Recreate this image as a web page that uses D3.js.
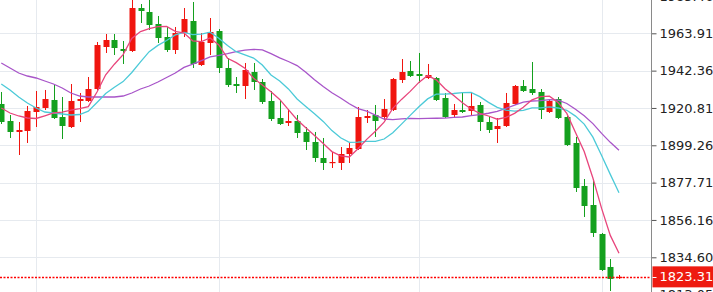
<!DOCTYPE html>
<html>
<head>
<meta charset="utf-8">
<script src="https://cdnjs.cloudflare.com/ajax/libs/d3/7.8.5/d3.min.js"></script>
<style>
  html, body { margin: 0; padding: 0; background: #fff; overflow: hidden; }
  svg { display: block; }
</style>
</head>
<body>
<div id="chart"></div>
<script>
const opens = [1923.10, 1913.28, 1906.94, 1907.51, 1918.48, 1920.79, 1925.41, 1915.59, 1909.82, 1924.83,
    1924.83, 1931.75, 1956.00, 1960.04, 1954.84, 1953.69, 1978.51, 1976.21, 1969.28, 1961.77,
    1954.27, 1964.08, 1971.01, 1945.61, 1958.31, 1965.23, 1943.88, 1934.64, 1933.49, 1941.57,
    1935.80, 1924.83, 1915.01, 1912.13, 1913.28, 1906.94, 1901.17, 1891.92, 1889.04, 1889.04,
    1894.23, 1897.12, 1915.01, 1916.74, 1915.59, 1919.63, 1936.95, 1942.14, 1940.41, 1938.10,
    1938.10, 1926.56, 1916.74, 1919.63, 1919.05, 1922.52, 1912.71, 1908.66, 1910.40, 1923.10,
    1933.49, 1931.75, 1930.03, 1918.48, 1925.98, 1915.59, 1900.59, 1875.77, 1864.79, 1848.06,
    1829.01, 1822.85];
const highs = [1930.03, 1916.74, 1912.71, 1921.95, 1930.60, 1931.18, 1934.64, 1927.14, 1934.64, 1929.45,
    1938.68, 1958.89, 1963.50, 1963.50, 1959.46, 1984.86, 1980.82, 1984.28, 1973.90, 1967.55,
    1967.55, 1978.51, 1981.98, 1964.08, 1972.74, 1966.39, 1949.65, 1938.68, 1946.77, 1946.77,
    1937.52, 1930.60, 1925.41, 1920.21, 1916.74, 1909.82, 1906.94, 1903.47, 1895.39, 1898.28,
    1901.17, 1921.37, 1919.63, 1922.52, 1925.98, 1938.10, 1949.07, 1947.92, 1952.54, 1946.19,
    1938.68, 1929.45, 1923.10, 1929.45, 1930.03, 1924.26, 1915.59, 1915.01, 1929.45, 1934.06,
    1936.95, 1947.35, 1931.75, 1925.98, 1927.14, 1916.17, 1904.05, 1879.80, 1879.80, 1848.64,
    1833.62, 1824.40];
const lows = [1911.55, 1903.47, 1893.65, 1900.59, 1909.82, 1919.63, 1914.43, 1902.89, 1909.24, 1912.71,
    1924.26, 1931.18, 1952.54, 1951.38, 1946.19, 1953.12, 1969.86, 1965.81, 1958.31, 1953.12,
    1951.96, 1961.77, 1943.88, 1945.04, 1951.38, 1940.99, 1932.91, 1929.45, 1925.98, 1931.18,
    1923.10, 1913.28, 1910.97, 1910.40, 1903.47, 1896.54, 1889.62, 1885.00, 1886.15, 1885.00,
    1889.04, 1896.54, 1912.13, 1904.05, 1913.86, 1919.05, 1935.22, 1938.68, 1935.22, 1937.52,
    1924.83, 1915.01, 1915.59, 1917.90, 1916.74, 1907.51, 1906.36, 1900.59, 1909.82, 1922.52,
    1930.03, 1928.29, 1914.43, 1917.90, 1914.43, 1898.86, 1872.30, 1857.87, 1846.33, 1826.70,
    1815.15, 1822.10];
const closes = [1912.71, 1906.94, 1908.09, 1919.05, 1921.37, 1925.98, 1915.01, 1910.40, 1924.83, 1925.98,
    1931.75, 1957.15, 1960.04, 1955.42, 1953.69, 1978.51, 1976.78, 1968.70, 1961.19, 1954.27,
    1964.08, 1972.16, 1946.19, 1958.89, 1964.66, 1943.88, 1934.06, 1933.49, 1942.72, 1935.80,
    1924.26, 1914.43, 1911.55, 1913.28, 1906.36, 1901.17, 1891.92, 1889.04, 1889.62, 1894.23,
    1897.70, 1915.59, 1916.17, 1913.28, 1920.21, 1937.52, 1941.57, 1939.26, 1939.26, 1939.83,
    1925.41, 1915.59, 1919.63, 1918.48, 1921.95, 1912.71, 1908.09, 1910.40, 1923.68, 1933.49,
    1930.60, 1929.45, 1919.63, 1924.83, 1915.01, 1899.43, 1874.61, 1864.22, 1848.64, 1827.28,
    1822.10, 1823.31];

const ma5 = [1920.79, 1917.90, 1916.17, 1915.02, 1914.73, 1916.29, 1917.90, 1918.36, 1919.52, 1920.44,
    1921.60, 1930.02, 1939.95, 1946.07, 1951.61, 1960.96, 1964.89, 1966.62, 1967.78, 1967.89,
    1965.00, 1964.08, 1959.58, 1959.12, 1961.19, 1957.15, 1949.53, 1946.99, 1943.76, 1937.99,
    1934.06, 1930.14, 1925.75, 1919.86, 1913.98, 1909.36, 1904.86, 1900.35, 1895.62, 1893.20,
    1892.50, 1897.24, 1902.66, 1907.40, 1912.59, 1920.56, 1925.75, 1930.37, 1935.57, 1939.49,
    1937.07, 1931.87, 1927.95, 1923.79, 1920.21, 1917.67, 1916.17, 1914.32, 1915.36, 1917.67,
    1921.25, 1925.52, 1927.37, 1927.60, 1923.91, 1917.67, 1906.70, 1895.62, 1880.38, 1862.83,
    1847.25, 1836.97];
const ma10 = [1934.64, 1931.18, 1927.14, 1923.67, 1920.79, 1918.48, 1917.90, 1917.32, 1916.75, 1917.04,
    1918.94, 1923.96, 1929.16, 1932.79, 1936.03, 1941.28, 1947.46, 1953.29, 1956.92, 1959.75,
    1962.98, 1964.48, 1963.10, 1963.45, 1964.54, 1961.08, 1956.81, 1953.29, 1951.44, 1949.59,
    1945.61, 1939.84, 1936.37, 1931.81, 1925.98, 1921.71, 1917.50, 1913.05, 1907.74, 1903.59,
    1900.93, 1901.05, 1901.51, 1901.51, 1902.89, 1906.53, 1911.49, 1916.52, 1921.48, 1926.04,
    1928.81, 1928.81, 1929.16, 1929.68, 1929.85, 1927.37, 1924.02, 1921.13, 1919.58, 1918.94,
    1919.46, 1920.85, 1920.85, 1921.48, 1920.79, 1919.46, 1916.11, 1911.49, 1903.99, 1893.37,
    1882.46, 1871.84];
const ma20 = [1946.76, 1943.88, 1940.99, 1939.26, 1938.11, 1936.37, 1934.64, 1932.33, 1929.45, 1927.71,
    1927.14, 1927.14, 1927.14, 1927.14, 1927.71, 1929.45, 1931.76, 1933.49, 1935.80, 1938.39,
    1940.96, 1944.22, 1946.13, 1948.12, 1950.28, 1951.18, 1952.13, 1953.29, 1954.18, 1954.67,
    1954.30, 1952.16, 1949.74, 1947.63, 1945.26, 1941.40, 1937.15, 1933.17, 1929.59, 1926.59,
    1923.27, 1920.44, 1918.94, 1916.66, 1914.44, 1914.12, 1914.50, 1914.78, 1914.61, 1914.81,
    1914.87, 1914.93, 1915.33, 1915.59, 1916.37, 1916.95, 1917.76, 1918.83, 1920.53, 1922.49,
    1924.14, 1924.83, 1925.00, 1925.58, 1925.32, 1923.41, 1920.07, 1916.31, 1911.78, 1906.16,
    1900.96, 1896.34];

const tickValues = [1985.46, 1963.91, 1942.36, 1920.81, 1899.26, 1877.71, 1856.16, 1834.60, 1813.05];
const tickLabels = ["1985.46", "1963.91", "1942.36", "1920.81", "1899.26", "1877.71", "1856.16", "1834.60", "1813.05"];
const sessionStarts = [4, 25, 48, 69];
const lastPrice = 1823.31;

const width = 713, height = 292;
const axisX = 651.5;
const upColor = "#f0150f", downColor = "#14a01e";

const bars = closes.map((d, i) => i);

const svg = d3.select("#chart").append("svg")
    .attr("width", width)
    .attr("height", height)
    .style("font-family", "'DejaVu Sans', Verdana, sans-serif");

const x = d3.scalePoint()
    .domain(bars)
    .range([1.3, 619]);

const y = d3.scaleLinear()
    .domain([1834.60, 1963.91])
    .range([257.3, 33.3]);

// grid
svg.append("g")
    .selectAll("line")
    .data(tickValues)
    .join("line")
    .attr("x1", 0)
    .attr("x2", axisX)
    .attr("y1", d => Math.round(y(d)) + 0.5)
    .attr("y2", d => Math.round(y(d)) + 0.5)
    .attr("stroke", "#e6eaef")
    .attr("stroke-width", 1);

svg.append("g")
    .selectAll("line")
    .data(sessionStarts)
    .join("line")
    .attr("x1", d => Math.round(x(d)) + 0.5)
    .attr("x2", d => Math.round(x(d)) + 0.5)
    .attr("y1", 0)
    .attr("y2", height)
    .attr("stroke", "#e6eaef")
    .attr("stroke-width", 1);

// candles
const candles = svg.append("g")
    .selectAll("g")
    .data(bars)
    .join("g")
    .attr("fill", i => closes[i] >= opens[i] ? upColor : downColor)
    .attr("stroke", i => closes[i] >= opens[i] ? upColor : downColor);

candles.append("line")
    .attr("x1", i => Math.round(x(i)) + 0.5)
    .attr("x2", i => Math.round(x(i)) + 0.5)
    .attr("y1", i => y(highs[i]))
    .attr("y2", i => y(lows[i]))
    .attr("stroke-width", 1);

candles.append("rect")
    .attr("x", i => Math.round(x(i)) - 2.5)
    .attr("width", 6)
    .attr("y", i => y(Math.max(opens[i], closes[i])))
    .attr("height", i => Math.max(1.2, Math.abs(y(opens[i]) - y(closes[i]))))
    .attr("stroke", "none");

// moving averages
const line = d3.line()
    .x((d, i) => x(i))
    .y(d => y(d));

svg.append("path")
    .datum(ma20)
    .attr("d", line)
    .attr("fill", "none")
    .attr("stroke", "#a855c9")
    .attr("stroke-width", 1.3);

svg.append("path")
    .datum(ma10)
    .attr("d", line)
    .attr("fill", "none")
    .attr("stroke", "#4ccad8")
    .attr("stroke-width", 1.3);

svg.append("path")
    .datum(ma5)
    .attr("d", line)
    .attr("fill", "none")
    .attr("stroke", "#e8457c")
    .attr("stroke-width", 1.3);

// last price line
svg.append("line")
    .attr("x1", 0)
    .attr("x2", axisX)
    .attr("y1", Math.round(y(lastPrice)) + 0.5)
    .attr("y2", Math.round(y(lastPrice)) + 0.5)
    .attr("stroke", "#ff0000")
    .attr("stroke-width", 1.5)
    .attr("stroke-dasharray", "2,1.5");

// right axis
svg.append("rect")
    .attr("x", axisX + 0.5)
    .attr("y", 0)
    .attr("width", width - axisX)
    .attr("height", height)
    .attr("fill", "#fff");

const axis = svg.append("g")
    .attr("transform", `translate(${axisX},0)`)
    .call(d3.axisRight(y)
        .tickValues(tickValues)
        .tickFormat((d, i) => tickLabels[i])
        .tickSize(5)
        .tickPadding(3)
        .tickSizeOuter(0));

axis.select(".domain").remove();
axis.selectAll(".tick line").attr("stroke", "#555");
axis.selectAll(".tick text")
    .attr("fill", "#222")
    .style("font-size", "13px")
    .style("font-family", "'DejaVu Sans', Verdana, sans-serif");

svg.append("line")
    .attr("x1", axisX)
    .attr("x2", axisX)
    .attr("y1", 0)
    .attr("y2", height)
    .attr("stroke", "#8a8a8a")
    .attr("stroke-width", 1);

// last price label
const ly = y(lastPrice);
svg.append("rect")
    .attr("x", axisX + 1)
    .attr("y", ly - 10.5)
    .attr("width", width - axisX)
    .attr("height", 21)
    .attr("fill", "#ee1a10");

svg.append("line")
    .attr("x1", axisX + 1)
    .attr("x2", axisX + 5)
    .attr("y1", Math.round(ly) + 0.5)
    .attr("y2", Math.round(ly) + 0.5)
    .attr("stroke", "#fff");

svg.append("text")
    .attr("x", axisX + 8)
    .attr("y", ly)
    .attr("dy", "0.32em")
    .attr("fill", "#fff")
    .style("font-size", "13px")
    .text(lastPrice.toFixed(2));
</script>
</body>
</html>
